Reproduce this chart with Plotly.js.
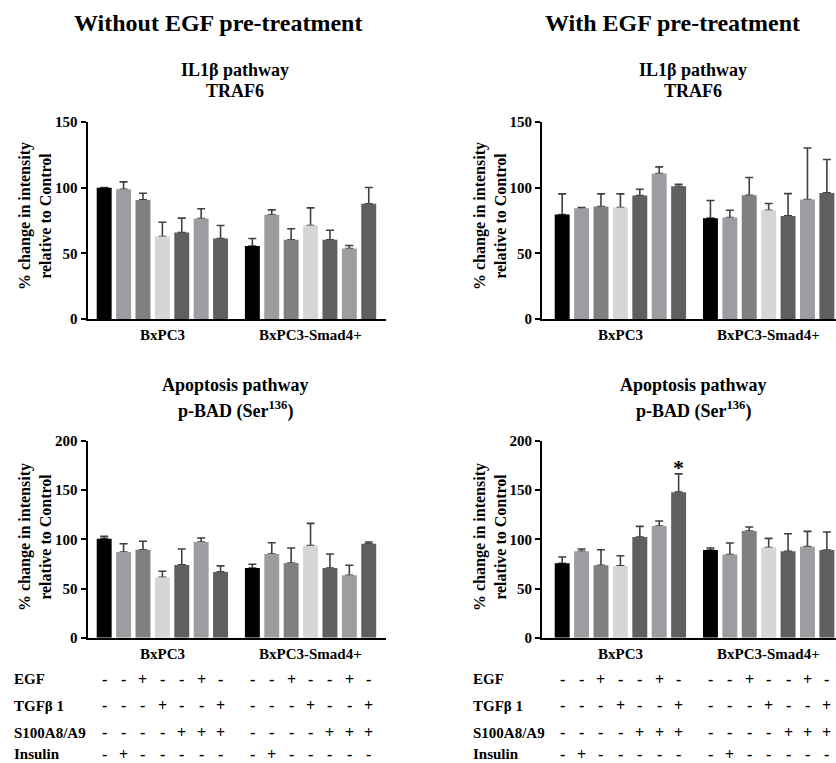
<!DOCTYPE html>
<html>
<head>
<meta charset="utf-8">
<script src="https://cdn.plot.ly/plotly-3.0.1.min.js"></script>
<style>html,body{margin:0;padding:0;background:#fff;}#chart{width:836px;height:763px;}</style>
</head>
<body>
<div id="chart"></div>
<script>
// ---------- DATA ----------
const GROUPS = ['BxPC3', 'BxPC3-Smad4+'];
const TREATMENTS = ['EGF', 'TGFβ 1', 'S100A8/A9', 'Insulin'];
// per-group sign pattern (7 conditions, same for both cell lines)
const EGF_SIGNS      = ['-', '-', '+', '-', '-', '+', '-'];
const TGFB1_SIGNS    = ['-', '-', '-', '+', '-', '-', '+'];
const S100_SIGNS     = ['-', '-', '-', '-', '+', '+', '+'];
const INSULIN_SIGNS  = ['-', '+', '-', '-', '-', '-', '-'];
const BAR_COLORS = ['#000000', '#9d9da1', '#808080', '#d6d6d6', '#5f5f5f', '#9d9da1', '#5f5f5f'];

// TRAF6 without EGF pre-treatment (mean, upper end of error bar)
const traf6_noEGF_mean  = [100, 98.8, 90.7, 62.8, 65.9, 76.5, 61.3,   55.5, 79.3, 60.3, 71.2, 60.3, 53.7, 87.7];
const traf6_noEGF_upper = [100, 104.4, 95.8, 73.7, 76.8, 83.9, 71.2,  61.3, 83.1, 68.7, 84.6, 67.6, 56.0, 100.1];
// TRAF6 with EGF pre-treatment
const traf6_EGF_mean  = [79.6, 84.4, 85.6, 84.9, 94.0, 110.7, 101.1,  76.8, 77.3, 94.2, 82.8, 78.5, 91.0, 96.0];
const traf6_EGF_upper = [95.3, 84.9, 95.3, 95.3, 98.8, 115.8, 102.6,  90.2, 82.8, 107.7, 87.9, 95.5, 130.2, 121.4];
// p-BAD without EGF pre-treatment
const pbad_noEGF_mean  = [100.7, 87.2, 89.5, 61.5, 74.0, 97.3, 66.9,  70.9, 85.1, 76.0, 93.6, 70.9, 63.5, 95.6];
const pbad_noEGF_upper = [103.0, 95.6, 98.0, 67.6, 90.2, 101.4, 73.0, 74.7, 96.6, 91.2, 116.2, 85.1, 73.6, 97.3];
// p-BAD with EGF pre-treatment
const pbad_EGF_mean  = [75.7, 87.8, 73.6, 73.0, 102.4, 113.5, 148.0,  89.2, 84.5, 108.5, 91.6, 87.8, 92.6, 89.2];
const pbad_EGF_upper = [82.1, 90.2, 89.5, 83.4, 113.2, 118.6, 166.6,  91.2, 96.3, 112.5, 101.0, 105.7, 108.1, 107.4];
const SIGNIFICANT = [{panel: 4, index: 6, label: '*'}];

// ---------- LAYOUT HELPERS ----------
const W = 836, H = 763;
const N_PER_GROUP = 7, GROUP_GAP = 0.64;
const px = v => v / W;
const py = v => 1 - v / H;
const barX = i => (i < N_PER_GROUP ? i : i + GROUP_GAP);
const groupCenter = g => (N_PER_GROUP - 1) / 2 + g * (N_PER_GROUP + GROUP_GAP);
const SERIF = 'Liberation Serif, Times New Roman, serif';
const boldFont = (size) => ({family: SERIF, size: size, color: '#000', weight: 700});

const panels = [
  {mean: traf6_noEGF_mean, upper: traf6_noEGF_upper, xa: 'x',  ya: 'y'},
  {mean: traf6_EGF_mean,   upper: traf6_EGF_upper,   xa: 'x2', ya: 'y2'},
  {mean: pbad_noEGF_mean,  upper: pbad_noEGF_upper,  xa: 'x3', ya: 'y3'},
  {mean: pbad_EGF_mean,    upper: pbad_EGF_upper,    xa: 'x4', ya: 'y4'}
];

const traces = [];
panels.forEach(p => {
  const xs = p.mean.map((_, i) => barX(i));
  const colors = p.mean.map((_, i) => BAR_COLORS[i % N_PER_GROUP]);
  const errs = p.upper.map((u, i) => { const d = u - p.mean[i]; return d > 0.05 ? d : NaN; });
  // error bar carrier (transparent), drawn first so the coloured bars hide the shoe
  traces.push({
    type: 'bar', x: xs, y: p.mean, xaxis: p.xa, yaxis: p.ya, width: 0.77,
    marker: {color: 'rgba(0,0,0,0)'}, hoverinfo: 'skip', showlegend: false,
    error_y: {type: 'data', symmetric: false, array: errs, arrayminus: errs.map(() => 0),
              color: '#404040', thickness: 1.6, width: 4}
  });
  traces.push({
    type: 'bar', x: xs, y: p.mean, xaxis: p.xa, yaxis: p.ya, width: 0.77,
    marker: {color: colors, line: {width: 0}}, showlegend: false
  });
});

const xBase = {showline: true, linecolor: '#000', linewidth: 2, ticks: '', showticklabels: false,
               showgrid: false, zeroline: false, fixedrange: true};
const yBase = {showline: true, linecolor: '#000', linewidth: 2, ticks: 'outside', ticklen: 5,
               tickwidth: 2, tickcolor: '#000', showgrid: false, zeroline: false, fixedrange: true,
               tickfont: boldFont(15)};
const topDom = [py(319), py(122)];
const botDom = [py(637.7), py(441)];
const leftDom = [px(87.5), px(386)];
const rightDom = [px(542), 1];
const leftRange = [-0.86, 14.53];
const rightRange = [-1.04, 14.11];

const annotations = [];
const addText = (text, x, y, size, opts) => annotations.push(Object.assign({
  text: text, x: x, y: y, xref: 'paper', yref: 'paper', showarrow: false,
  xanchor: 'center', yanchor: 'middle', font: boldFont(size)
}, opts || {}));

// main titles
addText('Without EGF pre-treatment', px(218), py(23), 24);
addText('With EGF pre-treatment', px(672), py(23), 24);
// subtitles
addText('IL1β pathway', px(235), py(70), 18);
addText('TRAF6', px(235), py(91), 18);
addText('IL1β pathway', px(693), py(70), 18);
addText('TRAF6', px(693), py(91), 18);
addText('Apoptosis pathway', px(235), py(385), 18);
addText('p-BAD (Ser<sup>136</sup>)', px(235), py(410), 18);
addText('Apoptosis pathway', px(693), py(385), 18);
addText('p-BAD (Ser<sup>136</sup>)', px(693), py(410), 18);
// y-axis titles
const yTitle = '% change in intensity<br>relative to Control';
[[35, 216], [490, 216], [35, 537], [490, 537]].forEach(([x, y]) =>
  addText(yTitle, px(x), py(y), 16, {textangle: -90}));
// group labels
[['x', 335], ['x2', 335], ['x3', 654], ['x4', 654]].forEach(([xa, y]) =>
  GROUPS.forEach((g, gi) => addText(g, groupCenter(gi), py(y), 15, {xref: xa})));
// treatment table
const SIGN_ROWS = [EGF_SIGNS, TGFB1_SIGNS, S100_SIGNS, INSULIN_SIGNS];
const ROW_Y = [679, 705.5, 732.5, 754];
[['x3', 12], ['x4', 470.5]].forEach(([xa, lx]) => {
  TREATMENTS.forEach((t, r) => {
    addText(t, px(lx), py(ROW_Y[r]), 15, {xanchor: 'left'});
    for (let g = 0; g < GROUPS.length; g++) {
      SIGN_ROWS[r].forEach((s, i) => {
        addText(s, barX(g * N_PER_GROUP + i), py(ROW_Y[r]), 16, {xref: xa});
      });
    }
  });
});
// significance marks
SIGNIFICANT.forEach(s => {
  const p = panels[s.panel - 1];
  annotations.push({text: s.label, x: barX(s.index), y: p.upper[s.index] + 6, xref: p.xa, yref: p.ya,
    showarrow: false, xanchor: 'center', yanchor: 'middle', font: boldFont(22)});
});

const layout = {
  width: W, height: H, margin: {l: 0, r: 0, t: 0, b: 0},
  paper_bgcolor: '#fff', plot_bgcolor: 'rgba(0,0,0,0)',
  barmode: 'overlay', showlegend: false,
  xaxis:  Object.assign({}, xBase, {domain: leftDom,  range: leftRange,  anchor: 'y'}),
  yaxis:  Object.assign({}, yBase, {domain: topDom, range: [0, 150], tickvals: [0, 50, 100, 150], anchor: 'x'}),
  xaxis2: Object.assign({}, xBase, {domain: rightDom, range: rightRange, anchor: 'y2'}),
  yaxis2: Object.assign({}, yBase, {domain: topDom, range: [0, 150], tickvals: [0, 50, 100, 150], anchor: 'x2'}),
  xaxis3: Object.assign({}, xBase, {domain: leftDom,  range: leftRange,  anchor: 'y3'}),
  yaxis3: Object.assign({}, yBase, {domain: botDom, range: [0, 200], tickvals: [0, 50, 100, 150, 200], anchor: 'x3'}),
  xaxis4: Object.assign({}, xBase, {domain: rightDom, range: rightRange, anchor: 'y4'}),
  yaxis4: Object.assign({}, yBase, {domain: botDom, range: [0, 200], tickvals: [0, 50, 100, 150, 200], anchor: 'x4'}),
  annotations: annotations
};

Plotly.newPlot('chart', traces, layout, {displayModeBar: false, staticPlot: true});
</script>
</body>
</html>
